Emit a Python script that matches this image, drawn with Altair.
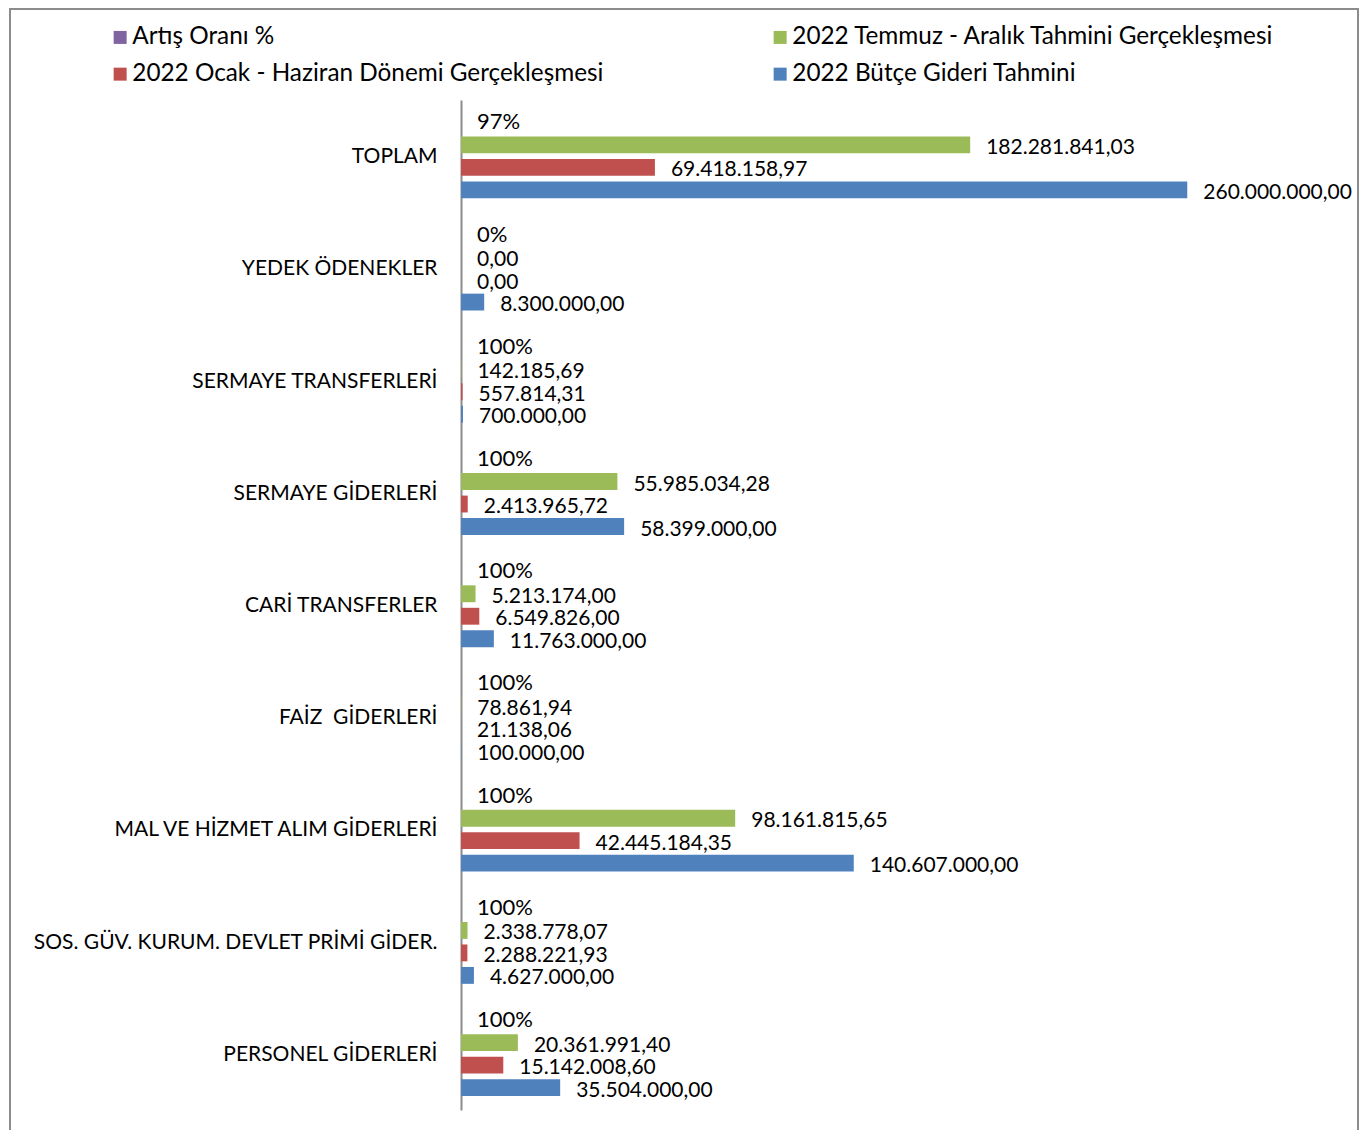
import altair as alt
import pandas as pd

categories = [
    "TOPLAM",
    "YEDEK ÖDENEKLER",
    "SERMAYE TRANSFERLERİ",
    "SERMAYE GİDERLERİ",
    "CARİ TRANSFERLER",
    "FAİZ\u00a0 GİDERLERİ",
    "MAL VE HİZMET ALIM GİDERLERİ",
    "SOS. GÜV. KURUM. DEVLET PRİMİ GİDER.",
    "PERSONEL GİDERLERİ",
]
series = [
    "Artış Oranı %",
    "2022 Temmuz - Aralık Tahmini Gerçekleşmesi",
    "2022 Ocak - Haziran Dönemi Gerçekleşmesi",
    "2022 Bütçe Gideri Tahmini",
]
colors = ["#8064A2", "#9BBB59", "#C0504D", "#4F81BD"]
# legend is laid out column by column
legend_order = [series[0], series[2], series[1], series[3]]
legend_colors = [colors[0], colors[2], colors[1], colors[3]]

artis = [0.97, 0.0, 1.0, 1.0, 1.0, 1.0, 1.0, 1.0, 1.0]
temmuz = [182281841.03, 0.0, 142185.69, 55985034.28, 5213174.00, 78861.94, 98161815.65, 2338778.07, 20361991.40]
ocak = [69418158.97, 0.0, 557814.31, 2413965.72, 6549826.00, 21138.06, 42445184.35, 2288221.93, 15142008.60]
butce = [260000000.00, 8300000.00, 700000.00, 58399000.00, 11763000.00, 100000.00, 140607000.00, 4627000.00, 35504000.00]


def tr(v):
    s = f"{v:,.2f}"
    return s.replace(",", "X").replace(".", ",").replace("X", ".")


rows = []
for i, c in enumerate(categories):
    rows.append(dict(cat=c, series=series[0], value=artis[i], label=f"{round(artis[i] * 100)}%", pct=True))
    rows.append(dict(cat=c, series=series[1], value=temmuz[i], label=tr(temmuz[i]), pct=False))
    rows.append(dict(cat=c, series=series[2], value=ocak[i], label=tr(ocak[i]), pct=False))
    rows.append(dict(cat=c, series=series[3], value=butce[i], label=tr(butce[i]), pct=False))
df = pd.DataFrame(rows)

FONT = "Lato"

y_enc = alt.Y(
    "cat:N",
    sort=categories,
    scale=alt.Scale(paddingInner=0, paddingOuter=0),
    axis=alt.Axis(
        title=None,
        ticks=False,
        domainColor="#8c8c8c",
        domainWidth=2,
        labelFont=FONT,
        labelFontSize=21,
        labelColor="#000000",
        labelPadding=24,
        labelLimit=600,
        labelOffset=1,
    ),
)
yoff_enc = alt.YOffset(
    "series:N",
    sort=series,
    scale=alt.Scale(paddingInner=0.25, paddingOuter=0.62),
)
x_enc = alt.X("value:Q", scale=alt.Scale(domain=[0, 300000000]), axis=None)

bars = alt.Chart(df).mark_bar().encode(
    y=y_enc,
    yOffset=yoff_enc,
    x=x_enc,
    color=alt.Color(
        "series:N",
        scale=alt.Scale(domain=legend_order, range=legend_colors),
        legend=alt.Legend(
            title=None,
            orient="none",
            legendX=-353,
            legendY=-75,
            columns=2,
            columnPadding=164,
            rowPadding=12,
            symbolType="square",
            symbolSize=169,
            symbolStrokeWidth=0,
            labelFont=FONT,
            labelFontSize=24.3,
            labelColor="#000000",
            labelLimit=700,
            labelOffset=0,
            padding=0,
        ),
    ),
)

text_enc = dict(
    y=alt.Y("cat:N", sort=categories),
    yOffset=alt.YOffset("series:N", sort=series),
    x=alt.X("value:Q"),
    text="label:N",
)

num_texts = (
    alt.Chart(df)
    .transform_filter("!datum.pct")
    .mark_text(align="left", baseline="middle", dx=16, dy=3, font=FONT, fontSize=21, color="#000000")
    .encode(**text_enc)
)
pct_texts = (
    alt.Chart(df)
    .transform_filter("datum.pct")
    .mark_text(align="left", baseline="middle", dx=16, dy=0, font=FONT, fontSize=22, color="#000000")
    .encode(**text_enc)
)

frame = alt.Chart(pd.DataFrame({"a": [0]})).mark_rect(
    filled=False, stroke="#8c8c8c", strokeWidth=2
).encode(
    x=alt.value(-451),
    x2=alt.value(897),
    y=alt.value(-91),
    y2=alt.value(1200),
)

chart = (
    alt.layer(bars, num_texts, pct_texts, frame)
    .properties(
        width=838,
        height=1010,
        autosize=alt.AutoSizeParams(type="none"),
        padding={"left": 453, "top": 92, "right": 60, "bottom": 20},
    )
    .configure_view(stroke=None)
)

chart.save("out.html", embed_options={"renderer": "svg", "actions": False})
